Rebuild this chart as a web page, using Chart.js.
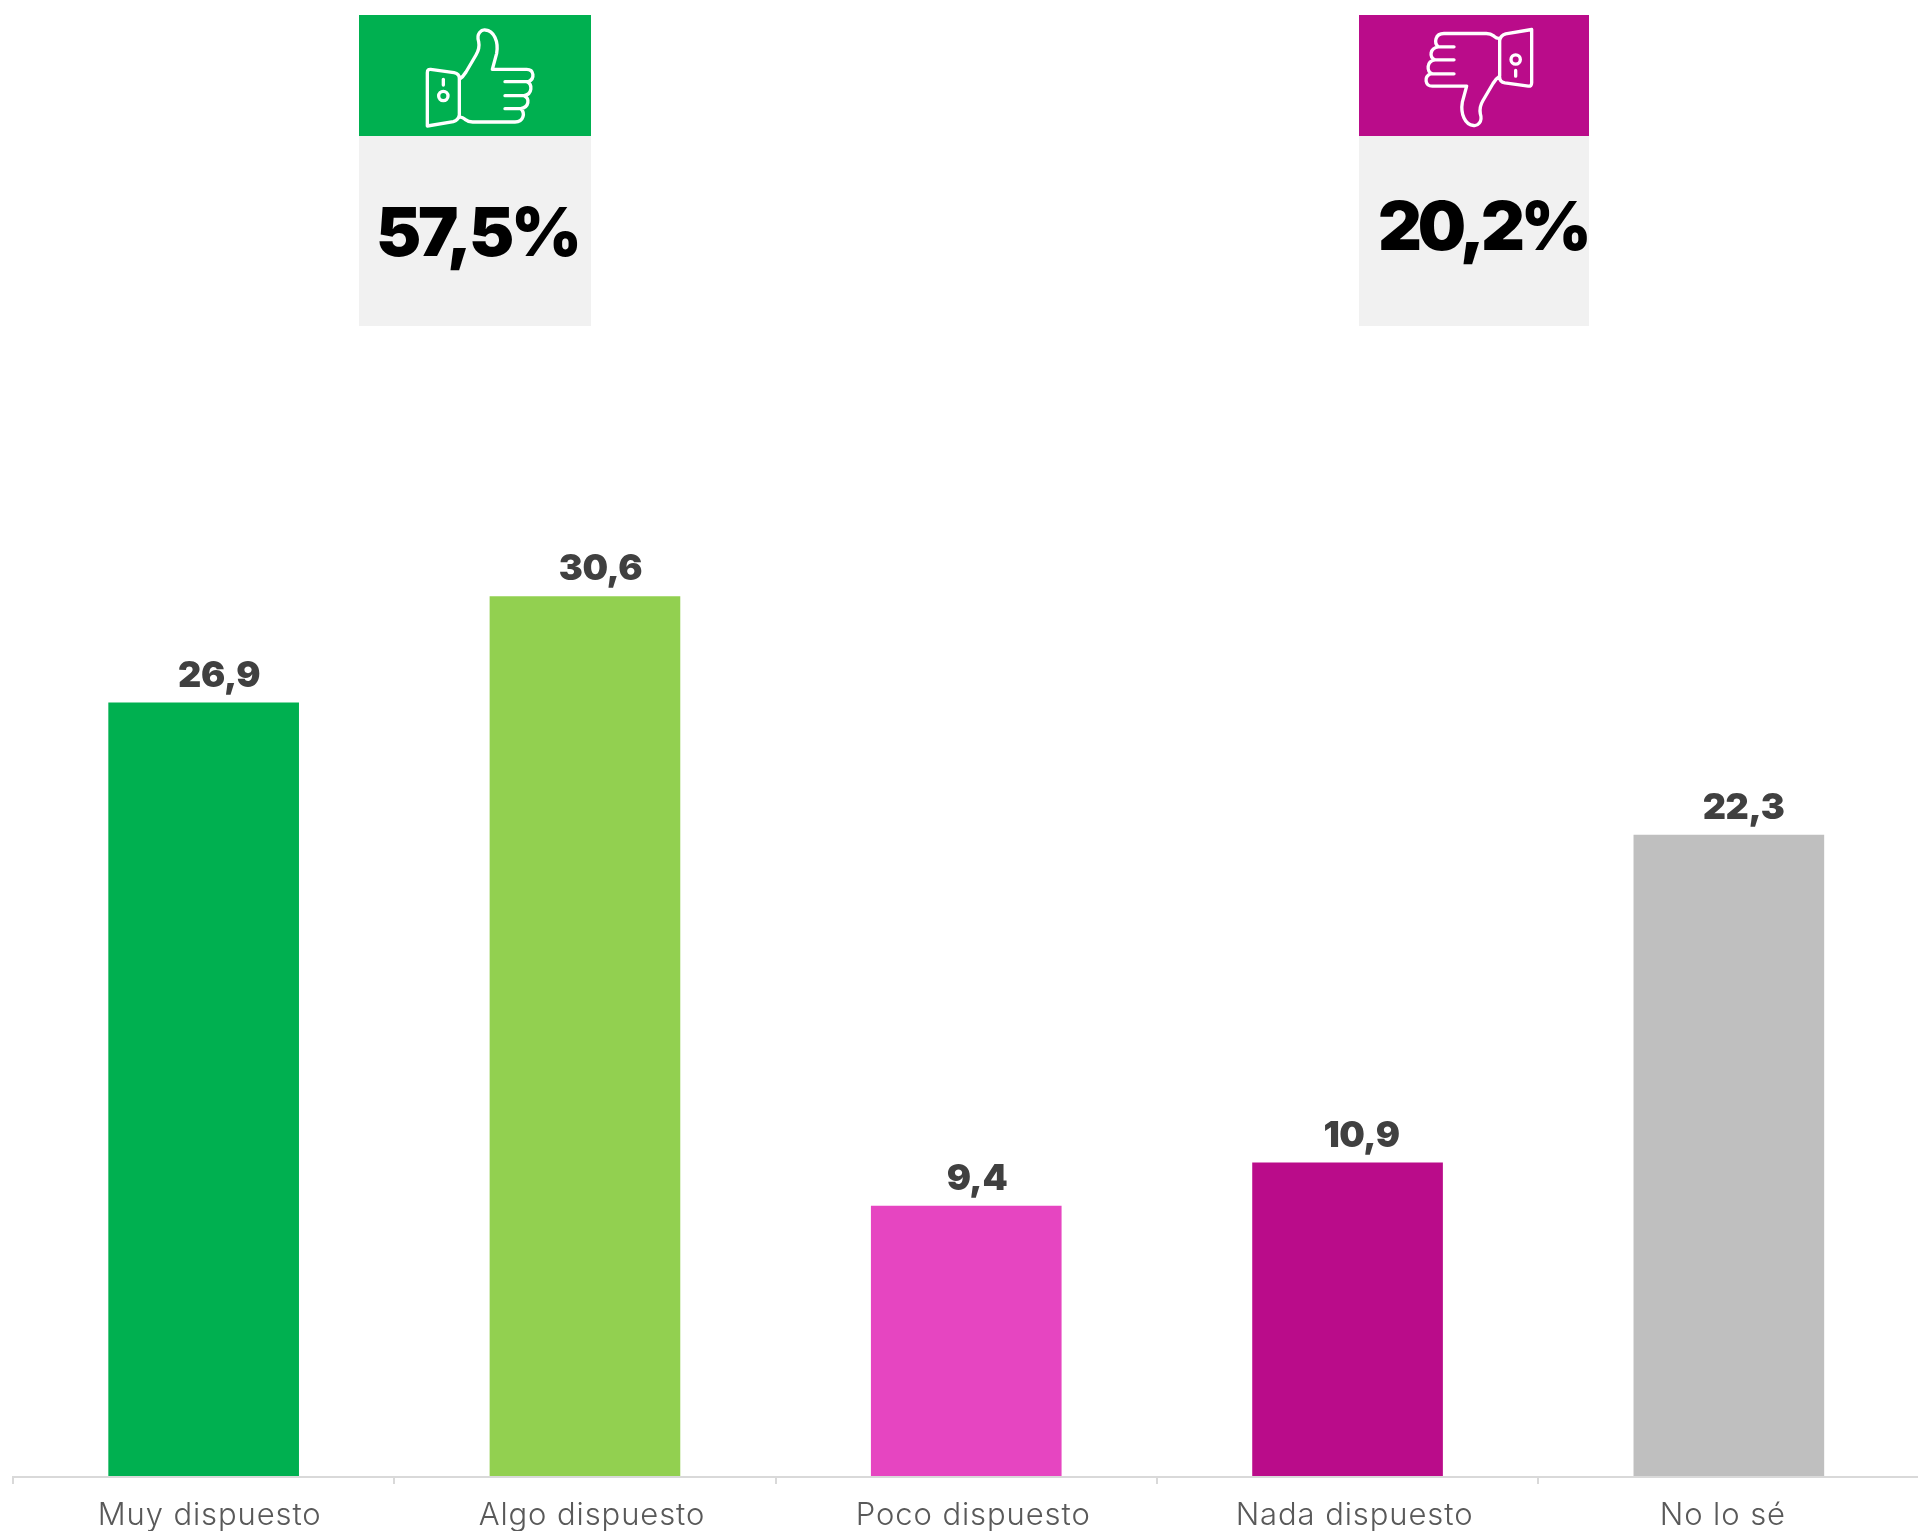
<!DOCTYPE html>
<html><head><meta charset="utf-8">
<script src="https://cdn.jsdelivr.net/npm/chart.js@4/dist/chart.umd.min.js"></script>
<style>html,body{margin:0;padding:0;background:#fff;overflow:hidden}canvas{display:block}</style>
</head><body><canvas id="c" width="1921" height="1531"></canvas>
<script>
const categories = ['Muy dispuesto','Algo dispuesto','Poco dispuesto','Nada dispuesto','No lo sé'];
const values = [26.9,30.6,9.4,10.9,22.3];
const barColors = ['#00B050','#92D050','#E645C1','#BA0C8A','#BFBFBF'];
const summaryLabels = ['57,5%','20,2%'];
const tickShift = [6,7,7,7,-6];
const valueShift = [15.5,15.5,10.7,14,14.7];
const heavy = 'Inter';
const light = 'Inter';
const fmt = v => String(v).replace('.',',');

function hand(ctx){
  const p = new Path2D();
  p.moveTo(272,208); p.lineTo(342,218); p.quadraticCurveTo(358,221,358,235);
  p.lineTo(358,345); p.quadraticCurveTo(356,360,340,365); p.lineTo(262,378); p.lineTo(262,218);
  p.quadraticCurveTo(262,207,272,208); p.closePath();
  p.moveTo(358,238); p.quadraticCurveTo(368,232,378,216); p.lineTo(408,165);
  p.quadraticCurveTo(420,145,416,125); p.bezierCurveTo(408,100,425,88,436,90);
  p.bezierCurveTo(462,92,476,125,470,160); p.lineTo(457,208); p.lineTo(560,208);
  p.bezierCurveTo(582,208,586,236,565,245); p.lineTo(495,245);
  p.moveTo(560,245); p.bezierCurveTo(578,252,578,283,552,287); p.lineTo(495,287);
  p.moveTo(552,287); p.bezierCurveTo(570,295,568,322,542,326); p.lineTo(495,326);
  p.moveTo(542,326); p.bezierCurveTo(556,338,552,366,525,366); p.lineTo(398,366);
  p.quadraticCurveTo(385,366,375,358); p.quadraticCurveTo(366,350,358,352);
  p.moveTo(310,238); p.lineTo(310,255);
  p.moveTo(324,288); p.arc(310,288,14,0,Math.PI*2);
  ctx.stroke(p);
}
function drawBox(ctx,x,w,color,label,textX,base,flip,spacing){
  ctx.fillStyle=color; ctx.fillRect(x,15,w,121);
  ctx.fillStyle='#F1F1F1'; ctx.fillRect(x,136,w,190);
  ctx.save();
  if(flip){ ctx.translate(1339+280,155.5); ctx.scale(-1/3,-1/3); }
  else { ctx.translate(340,0); ctx.scale(1/3,1/3); }
  ctx.strokeStyle='#fff'; ctx.lineWidth=10; ctx.lineJoin='round'; ctx.lineCap='round';
  hand(ctx); ctx.restore();
  ctx.fillStyle='#000'; ctx.font=`900 68px ${heavy}`; ctx.textAlign='left'; ctx.textBaseline='alphabetic';
  ctx.letterSpacing=spacing;
  ctx.fillText(label,textX,base);
  ctx.letterSpacing='0px';
}
const decor = {
  id:'decor',
  beforeDraw(chart){
    const s=chart.scales.x;
    chart.ctx.letterSpacing='0.9px';
    s.getLabelItems(chart.chartArea).forEach((it,i)=>{ it.options.translation[0]+=tickShift[i]; });
  },
  beforeDatasetsDraw(chart){ chart.ctx.letterSpacing='0px'; },
  afterDatasetsDraw(chart){
    const ctx=chart.ctx; ctx.save();
    const m=chart.getDatasetMeta(0);
    ctx.fillStyle='#404040'; ctx.font=`900 36px ${heavy}`; ctx.textAlign='center'; ctx.textBaseline='alphabetic';
    ctx.letterSpacing='-0.4px';
    m.data.forEach((b,i)=>ctx.fillText(fmt(values[i]),b.x+valueShift[i],b.y-16));
    ctx.letterSpacing='0px';
    drawBox(ctx,359,232,'#00B050',summaryLabels[0],376,256,false,'-3.2px');
    drawBox(ctx,1359,230,'#BA0C8A',summaryLabels[1],1378,250,true,'-4.2px');
    ctx.restore();
  }
};
new Chart(document.getElementById('c'),{
  type:'bar',
  data:{labels:categories,datasets:[{data:values,backgroundColor:barColors,barPercentage:0.5,categoryPercentage:1,borderWidth:0}]},
  plugins:[decor],
  options:{
    responsive:false,animation:false,devicePixelRatio:1,
    layout:{padding:{left:13,right:1.5,top:38.5,bottom:0}},
    plugins:{legend:{display:false},tooltip:{enabled:false},title:{display:false}},
    scales:{
      y:{display:false,min:-0.035,max:50},
      x:{
        afterFit(s){s.height=54;},
        grid:{drawOnChartArea:false,drawTicks:true,tickLength:7,color:'#D9D9D9',lineWidth:2,offset:true},
        border:{display:true,color:'#D9D9D9',width:2},
        ticks:{color:'#595959',font:{family:light,size:31,weight:300},padding:13,autoSkip:false,maxRotation:0,minRotation:0}
      }
    }
  }
});
</script></body></html>
